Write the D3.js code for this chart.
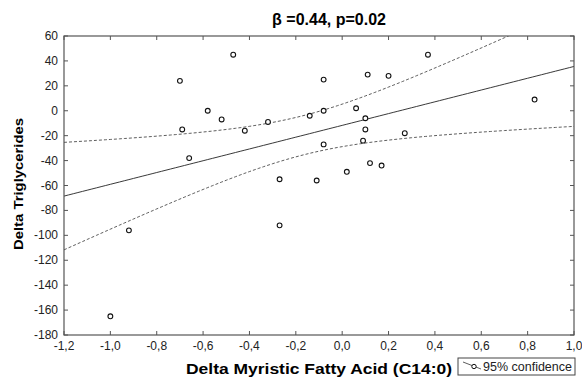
<!DOCTYPE html>
<html>
<head>
<meta charset="utf-8">
<script src="https://cdn.jsdelivr.net/npm/d3@7"></script>
<style>
  body { margin: 0; background: #fff; }
  svg { display: block; font-family: "Liberation Sans", Arial, sans-serif; }
</style>
</head>
<body>
<div id="container"></div>
<script>
let w = 582;
let h = 377;

// points
let myristic = [-1.00, -0.92, -0.66, -0.27, -0.27, -0.11, -0.47, -0.70, -0.58, -0.52,
                -0.69, -0.42, -0.32, -0.14, -0.08, 0.11, 0.20, 0.37, 0.83, -0.08,
                0.06, 0.10, 0.10, 0.27, -0.08, 0.09, 0.12, 0.17, 0.02];
let triglycerides = [-165, -96, -38, -55, -92, -56, 45, 24, 0, -7,
                     -15, -16, -9, -4, 25, 29, 28, 45, 9, 0,
                     2, -6, -15, -18, -27, -24, -42, -44, -49];

let xTicks = [-1.2, -1.0, -0.8, -0.6, -0.4, -0.2, 0.0, 0.2, 0.4, 0.6, 0.8, 1.0];
let yTicks = [60, 40, 20, 0, -20, -40, -60, -80, -100, -120, -140, -160, -180];

let pLeft = 64, pRight = 574, pTop = 36, pBottom = 335;

let loc = d3.formatLocale({decimal: ",", thousands: ".", grouping: [3], currency: ["", ""], minus: "-"});
let fmtX = loc.format(".1f");
let fmtY = loc.format("d");

let x = d3.scaleLinear().domain([-1.2, 1.0]).range([pLeft, pRight]);
let y = d3.scaleLinear().domain([-180, 60]).range([pBottom, pTop]);

let viz = d3.select('#container')
  .append('svg')
    .attr('width', w)
    .attr('height', h)
;

// linear fit and 95% confidence band from the points
let n = myristic.length;
let mx = d3.mean(myristic), my = d3.mean(triglycerides);
let sxx = d3.sum(myristic, function(d){ return (d - mx) * (d - mx); });
let sxy = d3.sum(myristic, function(d, i){ return (d - mx) * (triglycerides[i] - my); });
let slope = sxy / sxx;
let icpt = my - slope * mx;
let sse = d3.sum(myristic, function(d, i){ let r = triglycerides[i] - (icpt + slope * d); return r * r; });
let s = Math.sqrt(sse / (n - 2));
let tval = 2.052;

let xs = d3.range(-1.2, 1.0001, 0.02);
function fit(v){ return icpt + slope * v; }
function half(v){ return tval * s * Math.sqrt(1 / n + (v - mx) * (v - mx) / sxx); }

viz.append('clipPath').attr('id', 'plotclip')
  .append('rect')
    .attr('x', pLeft).attr('y', pTop)
    .attr('width', pRight - pLeft).attr('height', pBottom - pTop);

let lines = viz.append('g').attr('clip-path', 'url(#plotclip)');

let lineGen = d3.line().x(function(d){ return x(d[0]); }).y(function(d){ return y(d[1]); });

lines.append('path')
  .datum(xs.map(function(v){ return [v, fit(v)]; }))
  .attr('d', lineGen)
  .attr('fill', 'none')
  .attr('stroke', '#222')
  .attr('stroke-width', 0.9);

[1, -1].forEach(function(sign){
  lines.append('path')
    .datum(xs.map(function(v){ return [v, fit(v) + sign * half(v)]; }))
    .attr('d', lineGen)
    .attr('fill', 'none')
    .attr('stroke', '#333')
    .attr('stroke-width', 0.8)
    .attr('stroke-dasharray', '3,2');
});

// frame and ticks
let axisCol = '#555';
viz.append('rect')
  .attr('x', pLeft).attr('y', pTop)
  .attr('width', pRight - pLeft).attr('height', pBottom - pTop)
  .attr('fill', 'none').attr('stroke', axisCol).attr('stroke-width', 1.2);

let ticks = viz.append('g').attr('stroke', axisCol).attr('stroke-width', 1);
xTicks.forEach(function(t){
  ticks.append('line').attr('x1', x(t)).attr('x2', x(t)).attr('y1', pBottom).attr('y2', pBottom - 4);
  ticks.append('line').attr('x1', x(t)).attr('x2', x(t)).attr('y1', pTop).attr('y2', pTop + 4);
});
yTicks.forEach(function(t){
  ticks.append('line').attr('x1', pLeft).attr('x2', pLeft + 4).attr('y1', y(t)).attr('y2', y(t));
  ticks.append('line').attr('x1', pRight).attr('x2', pRight - 4).attr('y1', y(t)).attr('y2', y(t));
});

viz.append('g').selectAll('text').data(xTicks).enter()
  .append('text')
    .attr('x', function(d){ return x(d); })
    .attr('y', 350)
    .attr('text-anchor', 'middle')
    .attr('font-size', '12px')
    .attr('fill', '#222')
    .text(function(d){ return fmtX(d); });

viz.append('g').selectAll('text').data(yTicks).enter()
  .append('text')
    .attr('x', 58)
    .attr('y', function(d){ return y(d) + 4; })
    .attr('text-anchor', 'end')
    .attr('font-size', '12px')
    .attr('fill', '#222')
    .text(function(d){ return fmtY(d); });

// points
viz.append('g').selectAll('circle').data(myristic).enter()
  .append('circle')
    .attr('cx', function(d){ return x(d); })
    .attr('cy', function(d, i){ return y(triglycerides[i]); })
    .attr('r', 2.4)
    .attr('fill', 'white')
    .attr('stroke', '#111')
    .attr('stroke-width', 1.1);

// titles
viz.append('text')
  .attr('x', 329).attr('y', 25)
  .attr('text-anchor', 'middle')
  .attr('font-size', '16px').attr('font-weight', 'bold')
  .text('β =0.44, p=0.02');

viz.append('text')
  .attr('x', 319).attr('y', 374)
  .attr('text-anchor', 'middle')
  .attr('font-size', '14px').attr('font-weight', 'bold')
  .attr('textLength', 266).attr('lengthAdjust', 'spacingAndGlyphs')
  .text('Delta Myristic Fatty Acid (C14:0)');

viz.append('text')
  .attr('transform', 'translate(23,184) rotate(-90)')
  .attr('text-anchor', 'middle')
  .attr('font-size', '13px').attr('font-weight', 'bold')
  .attr('textLength', 132).attr('lengthAdjust', 'spacingAndGlyphs')
  .text('Delta Triglycerides');

// legend
let lg = viz.append('g');
lg.append('rect')
  .attr('x', 458).attr('y', 358).attr('width', 117).attr('height', 17)
  .attr('fill', 'white').attr('stroke', '#444').attr('stroke-width', 1);
lg.append('line')
  .attr('x1', 463).attr('y1', 362).attr('x2', 481).attr('y2', 369)
  .attr('stroke', '#333').attr('stroke-width', 0.8);
lg.append('circle')
  .attr('cx', 474).attr('cy', 366.5).attr('r', 2.2)
  .attr('fill', 'white').attr('stroke', '#111').attr('stroke-width', 1);
lg.append('text')
  .attr('x', 483).attr('y', 371)
  .attr('font-size', '12px').attr('fill', '#222')
  .attr('textLength', 89).attr('lengthAdjust', 'spacingAndGlyphs')
  .text('95% confidence');
</script>
</body>
</html>
